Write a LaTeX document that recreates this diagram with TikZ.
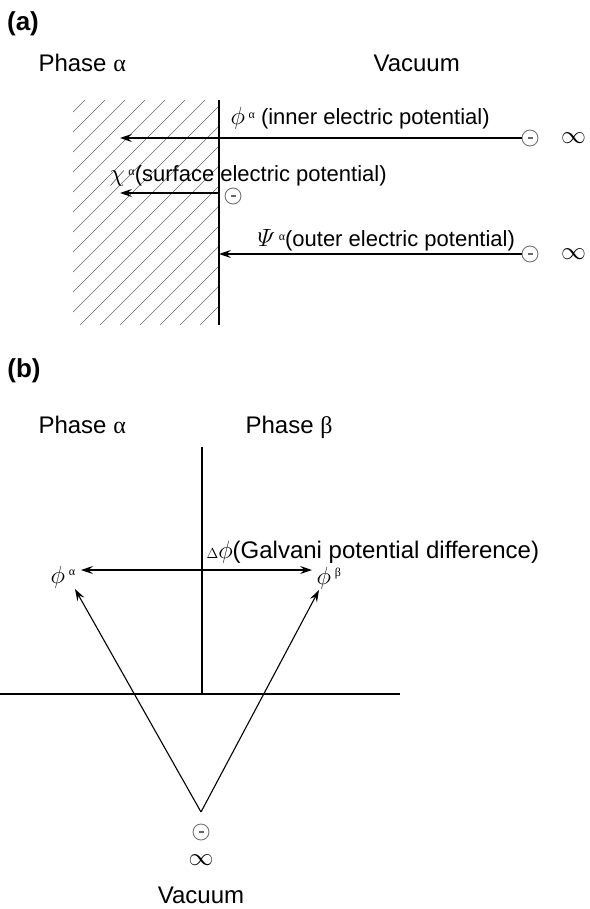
\documentclass[tikz,border=0pt]{standalone}
\usepackage{amsmath}
\usepackage{fontspec}
\setmainfont{Liberation Sans}
\newfontfamily\grk{Liberation Serif}
\usetikzlibrary{arrows.meta, positioning}

\newcommand{\minus}{\textcolor{black!60}{\rule[-0.75pt]{5pt}{1.6pt}}}
\newcommand{\tinysup}[1]{\,\raisebox{0.3em}{\fontsize{12}{12}\selectfont\grk #1}}
\newcommand{\largesym}[1]{{\fontsize{26}{26}\selectfont$#1$}}

\begin{document}
\begin{tikzpicture}[x=1pt, y=-1pt, >={Stealth[length=12pt,width=8pt,inset=4.5pt]}, line width=1.1pt,
    big/.style={font=\fontsize{24}{28}\selectfont, inner sep=0pt, anchor=base west},
    tag/.style={font=\fontsize{26}{30}\selectfont\bfseries, inner sep=0pt},
    lab/.style={font=\fontsize{22}{26}\selectfont, inner sep=0pt, anchor=base west},
    neg/.style={circle, draw=black!55, line width=0.9pt, minimum size=16pt, inner sep=0pt},
    inf/.style={font=\fontsize{26}{26}\selectfont, inner sep=0pt},
    hatch/.style={line width=0.6pt, black!60}]
  \useasboundingbox (0,0) rectangle (589,909);

  % (a) phase alpha against vacuum
  \node[tag] (taga) at (23,24) {(a)};
  \node[big] (phasea) at (38,72) {Phase {\grk α}};
  \node[big] (vaca) at (373,72) {Vacuum};

  \begin{scope}
    \clip (73,100) rectangle (219,325);
    \foreach \x in {-160,-140,...,220}
      \draw[hatch] (\x,325) -- ++(225,-225);
  \end{scope}
  \draw[line width=1.4pt] (219,100) -- (219,325);

  \node[neg] (e1) at (530,138) {\minus};
  \node[inf, right=22pt of e1] (i1) {$\infty$};
  \coordinate (t1) at (120,138);
  \draw[->] (e1) -- (t1);
  \node[lab] (l1) at (230,125) {\largesym{\phi}\tinysup{α} (inner electric potential)};

  \coordinate (w2) at (219,193);
  \coordinate (t2) at (120,193);
  \node[neg] (e2) at (233,196) {\minus};
  \draw[->] (w2) -- (t2);
  \node[lab] (l2) at (109,182) {\largesym{\chi}\tinysup{α}(surface electric potential)};

  \node[neg] (e3) at (530,254) {\minus};
  \node[inf, right=22pt of e3] (i3) {$\infty$};
  \coordinate (w3) at (219,254);
  \draw[->] (e3) -- (w3);
  \node[lab] (l3) at (257,247) {\largesym{\varPsi}\tinysup{α}(outer electric potential)};

  % (b) phase alpha against phase beta
  \node[tag] (tagb) at (24,371) {(b)};
  \node[big] (phaseb1) at (38,433) {Phase {\grk α}};
  \node[big] (phaseb2) at (245,433) {Phase {\grk β}};

  \draw[line width=1.4pt] (202,447) -- (202,694);
  \draw[line width=1.4pt] (0,694) -- (400,694);

  \node[big] (na) at (50,583) {\largesym{\phi}\tinysup{α}};
  \node[big] (nb) at (316,584) {\largesym{\phi}\tinysup{β}};
  \coordinate (ga) at (81,570);
  \coordinate (gb) at (312,570);
  \draw[<->] (ga) -- (gb);
  \node[big] (gal) at (206,558) {{\fontsize{14}{14}\selectfont$\Delta$}\largesym{\phi}(Galvani potential difference)};

  \coordinate (apex) at (201,812);
  \coordinate (ta) at (75,589);
  \coordinate (tb) at (319,590);
  \draw[->] (apex) -- (ta);
  \draw[->] (apex) -- (tb);

  \node[neg] (eb) at (201,832) {\minus};
  \node[inf, below=14pt of eb] (ib) {$\infty$};
  \node[big, anchor=base] (vacb) at (201,903) {Vacuum};
\end{tikzpicture}
\end{document}
